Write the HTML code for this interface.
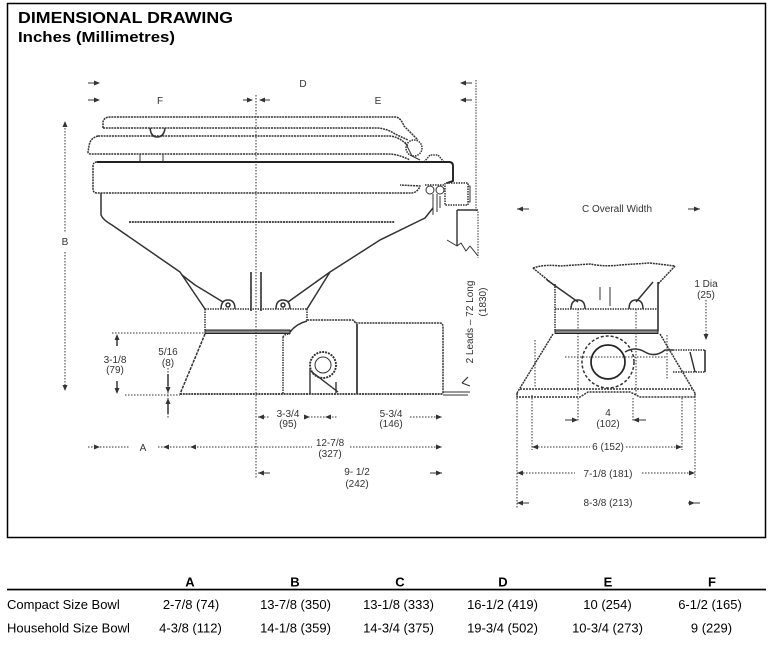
<!DOCTYPE html>
<html><head><meta charset="utf-8">
<style>
html,body{margin:0;padding:0;background:#fff;}
svg{display:block;}
text{font-family:"Liberation Sans",Arial,sans-serif;}
</style></head><body>
<svg width="772" height="645" viewBox="0 0 772 645" xmlns="http://www.w3.org/2000/svg">
<rect x="0" y="0" width="772" height="645" fill="#fff"/>
<rect x="7.5" y="3.5" width="758" height="534" fill="none" stroke="#000" stroke-width="1.5"/>
<text x="18" y="23" font-size="16" font-weight="bold" textLength="215" lengthAdjust="spacingAndGlyphs">DIMENSIONAL DRAWING</text>
<text x="18" y="42" font-size="14.5" font-weight="bold" textLength="157" lengthAdjust="spacingAndGlyphs">Inches (Millimetres)</text>

<!-- ============ LEFT VIEW ============ -->
<g fill="none" stroke="#333" stroke-width="1.5" stroke-linejoin="round">
  <!-- lid -->
  <path d="M103,128 L103,122 Q104,117 110,117 L396,117 Q401,118 404,126 L418,140" stroke-dasharray="2 0.8"/>
  <path d="M103,128 L378,128 Q388,129 395,134 L408,140" stroke-dasharray="2 0.8"/>
  <path d="M150,128 Q151,137 157,137 Q164,137 165,128"/>
  <!-- seat -->
  <path d="M98,136 L390,136 Q400,137 408,146" stroke-dasharray="2 0.8"/>
  <path d="M98,136 Q90,138 89,146 L88,152 Q88,154 91,154 L388,154 Q398,154 410,160" stroke-dasharray="2 0.8"/>
  <path d="M140,154 L140,162 M163,154 L163,162" stroke-width="1"/>
  <!-- hinge -->
  <circle cx="414" cy="148" r="8" stroke-dasharray="1.5 1"/>
  <path d="M405,142 L412,156 L420,160" stroke-width="1"/>
  <path d="M424,162 L430,155 L438,155 L444,162" stroke-dasharray="1.5 1"/>
  <!-- rim -->
  <path d="M97,162 L449,162 Q453,162 453,166 L453,181 L447,183" stroke="#222" stroke-width="1.9"/>
  <path d="M97,162 Q93,162 93,166 L93,189 Q93,193 97,193 L412,193 Q418,192 420,186 L400,185" stroke-dasharray="2 0.8"/>
  <!-- bowl -->
  <path d="M101,193 L101,215 Q103,220 112,225 L180,272 L205,309"/>
  <path d="M182,275 L195,285 L223,302"/>
  <path d="M433,208 L425,218 L380,240 L330,272 L307,309"/>
  <path d="M330,272 L288,302"/>
  <path d="M129,222 L395,222" stroke-width="1.7" stroke-dasharray="2 0.8"/>
  <!-- nuts -->
  <path d="M221,309 Q221,300 228,300 Q235,300 235,309 M276,309 Q276,300 283,300 Q290,300 290,309"/>
  <circle cx="228" cy="305" r="2"/><circle cx="283" cy="305" r="2"/>
  <path d="M251,272 L251,311 M261,272 L261,311" stroke="#222"/>
  <!-- base -->
  <path d="M205,309 L307,309" stroke-dasharray="1.5 1"/>
  <path d="M205,309 L205,330 M307,309 L307,321" stroke-dasharray="1.5 1"/>
  <path d="M307,321 Q296,324 290,332"/>
  <rect x="205" y="330" width="85" height="3.5" fill="#888" stroke="#222" stroke-width="1"/>
  <path d="M307,320 L352,320 Q355,320 355,323 L440,323 Q443,323 443,327 L443,394" stroke-dasharray="2 0.8"/>
  <path d="M357,324 L357,394" stroke="#222" stroke-width="1.6"/>
  <path d="M283,337 Q284,334 290,334 M283,337 L283,394" stroke-dasharray="1.5 1"/>
  <path d="M205,334 L180,394" stroke-dasharray="3 1"/>
  <path d="M180,394 L443,394" stroke-width="1.8" stroke-dasharray="2 0.8"/>
  <path d="M443,392 L470,392 M443,395 L468,395" stroke-width="1"/>
  <circle cx="323" cy="365" r="13" stroke-width="1.9" stroke-dasharray="2 1"/>
  <circle cx="323" cy="365" r="8" stroke-width="1"/>
  <path d="M310,368 L310,394 M312,372 L338,392 M336,382 L336,393" stroke-width="1.4"/>
  <!-- side pipe -->
  <path d="M445,183 L445,205 L468,205 L468,183 Z" stroke-dasharray="1.5 1"/>
  <path d="M468,186 L470,186 L470,202 L468,202" stroke-width="1"/>
  <path d="M425,185 L445,185" stroke-dasharray="1.5 1"/>
  <circle cx="430" cy="190" r="4" stroke-width="1"/><circle cx="440" cy="190" r="4" stroke-width="1"/>
  <path d="M433,194 L433,215 M437,194 L437,212 M440,196 L440,208" stroke-width="1"/>
  <path d="M476,80 L476,210 L478,212 L478,258" stroke-dasharray="1.5 1.2" stroke-width="1"/>
  <path d="M457,210 L478,210 M457,210 L457,246" stroke-width="1.4"/>
  <path d="M447,240 L457,246 L461,243 L466,251 L470,246 L478,256" stroke-width="1"/>
  <path d="M462,383 L468,377 M462,383 L470,386" stroke-width="1.2"/>
  <!-- centre line -->
  <path d="M256,95 L256,478" stroke-width="1" stroke-dasharray="1.5 1.5"/>
  <!-- B dimension -->
  <path d="M65,128 L65,232 M65,252 L65,388" stroke-width="1" stroke-dasharray="1.5 1.5"/>
  <!-- 3-1/8 -->
  <path d="M112,333 L205,333 M125,395 L180,395" stroke-width="1" stroke-dasharray="1.5 1.5"/>
  <path d="M117,337 L117,346 M117,381 L117,391" stroke-width="1.5"/>
  <!-- 5/16 -->
  <path d="M168,368 L168,418" stroke-width="1" stroke-dasharray="1.5 1.5"/>
  <path d="M168,374 L168,386 M168,401 L168,414" stroke-width="1.5"/>
  <!-- dim rows -->
  <path d="M258,417 L270,417 M305,417 L337,417 M410,417 L442,417" stroke-width="1" stroke-dasharray="1.5 1.5"/>
  <path d="M88,447 L130,447 M158,447 L312,447 M350,447 L442,447" stroke-width="1" stroke-dasharray="1.5 1.5"/>
  <path d="M258,473 L270,473 M430,473 L442,473" stroke-width="1"/>
</g>
<!-- arrowheads / marks -->
<g fill="#333" stroke="none">
  <path d="M100,83 l-6,-2.5 v5 z M100,100 l-6,-2.5 v5 z"/>
  <rect x="88" y="82.5" width="7" height="1"/><rect x="88" y="99.5" width="7" height="1"/>
  <path d="M253,100 l-6,-2.5 v5 z M259,100 l6,-2.5 v5 z"/>
  <rect x="243" y="99.5" width="6" height="1"/><rect x="264" y="99.5" width="6" height="1"/>
  <path d="M460,83 l6,-2.5 v5 z M460,100 l6,-2.5 v5 z"/>
  <rect x="465" y="82.5" width="7" height="1"/><rect x="465" y="99.5" width="7" height="1"/>
  <path d="M65,121 l-2.5,6 h5 z M65,391 l-2.5,-6 h5 z"/>
  <path d="M117,334 l-2.5,6 h5 z M117,394 l-2.5,-6 h5 z"/>
  <path d="M168,393 l-2.5,-6 h5 z M168,398 l-2.5,6 h5 z"/>
  <path d="M258,417 l6,-2.5 v5 z M310,417 l-6,-2.5 v5 z M325,417 l6,-2.5 v5 z M442,417 l-6,-2.5 v5 z"/>
  <path d="M100,447 l-6,-2.5 v5 z M163,447 l6,-2.5 v5 z M190,447 l6,-2.5 v5 z M442,447 l-6,-2.5 v5 z"/>
  <path d="M258,473 l6,-2.5 v5 z M442,473 l-6,-2.5 v5 z"/>
  <path d="M578,420 l-6,-2.5 v5 z M633,420 l6,-2.5 v5 z"/>
  <path d="M532,447 l6,-2.5 v5 z M682,447 l-6,-2.5 v5 z"/>
  <path d="M517,473 l6,-2.5 v5 z M695,473 l-6,-2.5 v5 z"/>
  <path d="M517,503 l6,-2.5 v5 z M695,503 l-6,-2.5 v5 z"/>
  <path d="M517,209 l6,-2.5 v5 z M700,209 l-6,-2.5 v5 z"/>
  <rect x="517" y="208.5" width="12" height="1"/><rect x="688" y="208.5" width="12" height="1"/>
  <rect x="517" y="502.5" width="12" height="1"/><rect x="688" y="502.5" width="12" height="1"/>
  <rect x="565" y="419.5" width="12" height="1"/><rect x="634" y="419.5" width="12" height="1"/>
  <path d="M706,340 l-2.5,-6 h5 z"/>
</g>

<!-- ============ RIGHT VIEW ============ -->
<g fill="none" stroke="#333" stroke-width="1.5" stroke-linejoin="round">
  <path d="M533,268 Q545,264 560,266 L590,264 Q605,267 620,265 L650,263 L675,266" stroke-dasharray="2 0.8"/>
  <path d="M533,268 L555,286 M675,266 L658,284" stroke-dasharray="2 0.8"/>
  <path d="M555,284 L555,331" stroke-dasharray="1.5 1"/>
  <path d="M658,282 L658,331" stroke="#222"/>
  <path d="M547,280 L578,302 M653,282 L636,302"/>
  <path d="M571,309 Q571,300 578,300 Q585,300 585,309 M629,309 Q629,300 636,300 Q643,300 643,309"/>
  <path d="M555,309 L658,309" stroke-dasharray="1.5 1"/>
  <path d="M578,309 L578,395 M636,309 L636,395" stroke-dasharray="1.5 1.5" stroke-width="1"/>
  <path d="M600,287 L600,300 M610,287 L610,306" stroke-width="1"/>
  <rect x="555" y="330" width="103" height="3.5" fill="#888" stroke="#222" stroke-width="1"/>
  <path d="M553,334 L517,393 M660,334 L695,393" stroke-dasharray="2 0.8"/>
  <path d="M535,340 L535,388 M667,335 L667,380" stroke-dasharray="1.5 1.5" stroke-width="1"/>
  <path d="M520,389 L692,389" stroke-dasharray="2 1"/>
  <path d="M517,393 L517,397 L580,397 L588,392 L630,392 L640,397 L695,397 L695,393" stroke-dasharray="2 1"/>
  <circle cx="608" cy="362" r="26" stroke-dasharray="3 2"/>
  <circle cx="608" cy="362" r="17" stroke="#222" stroke-width="1.7"/>
  <path d="M565,357 L667,357" stroke-dasharray="1.5 1.5" stroke-width="1"/>
  <path d="M625,352 Q635,346 645,352 T665,350 L673,350"/>
  <path d="M673,350 L705,350 M673,372 L705,372" stroke-dasharray="1.5 1"/>
  <path d="M705,350 L705,372" stroke="#222" stroke-width="1.5"/>
  <path d="M690,352 L695,372"/>
  <path d="M706,300 L706,338" stroke-dasharray="1.5 1.5" stroke-width="1"/>
  <path d="M517,395 L517,508 M532,395 L532,450 M695,393 L695,478 M682,398 L682,450 M633,398 L633,421 M578,398 L578,421" stroke-dasharray="1.5 1.5" stroke-width="1"/>
  <path d="M532,447 L590,447 M626,447 L682,447 M517,473 L575,473 M642,473 L695,473" stroke-dasharray="1.5 1.5" stroke-width="1"/>
</g>

<!-- labels -->
<g fill="#333" font-size="10" text-anchor="middle">
  <text x="303" y="87">D</text>
  <text x="160" y="104">F</text>
  <text x="378" y="104">E</text>
  <text x="65" y="245">B</text>
  <text x="115" y="363">3-1/8</text>
  <text x="115" y="373">(79)</text>
  <text x="168" y="355">5/16</text>
  <text x="168" y="366">(8)</text>
  <text x="288" y="417">3-3/4</text>
  <text x="288" y="427">(95)</text>
  <text x="391" y="417">5-3/4</text>
  <text x="391" y="427">(146)</text>
  <text x="143" y="451">A</text>
  <text x="330" y="446">12-7/8</text>
  <text x="330" y="457">(327)</text>
  <text x="357" y="475">9- 1/2</text>
  <text x="357" y="487">(242)</text>
  <text transform="translate(473,322) rotate(-90)">2 Leads – 72 Long</text>
  <text transform="translate(486,302) rotate(-90)">(1830)</text>
  <text x="617" y="212">C Overall Width</text>
  <text x="706" y="287">1 Dia</text>
  <text x="706" y="298">(25)</text>
  <text x="608" y="416">4</text>
  <text x="608" y="427">(102)</text>
  <text x="608" y="450">6 (152)</text>
  <text x="608" y="477">7-1/8 (181)</text>
  <text x="608" y="506">8-3/8 (213)</text>
</g>

<!-- ============ TABLE ============ -->
<g fill="#000">
  <g font-size="13" font-weight="bold" text-anchor="middle">
    <text x="190" y="586.5">A</text>
    <text x="295" y="586.5">B</text>
    <text x="400" y="586.5">C</text>
    <text x="503" y="586.5">D</text>
    <text x="608" y="586.5">E</text>
    <text x="712" y="586.5">F</text>
  </g>
  <rect x="7" y="588.7" width="759" height="1.7"/>
  <g font-size="13">
    <text x="7" y="609">Compact Size Bowl</text>
    <text x="7" y="632.5">Household Size Bowl</text>
  </g>
  <g font-size="13" text-anchor="middle">
    <text x="191" y="609">2-7/8 (74)</text>
    <text x="295.5" y="609">13-7/8 (350)</text>
    <text x="398.5" y="609">13-1/8 (333)</text>
    <text x="502.5" y="609">16-1/2 (419)</text>
    <text x="607.5" y="609">10 (254)</text>
    <text x="710" y="609">6-1/2 (165)</text>
    <text x="190.5" y="632.5">4-3/8 (112)</text>
    <text x="295.5" y="632.5">14-1/8 (359)</text>
    <text x="398.5" y="632.5">14-3/4 (375)</text>
    <text x="502.5" y="632.5">19-3/4 (502)</text>
    <text x="607.5" y="632.5">10-3/4 (273)</text>
    <text x="711.5" y="632.5">9 (229)</text>
  </g>
</g>
</svg>
</body></html>
